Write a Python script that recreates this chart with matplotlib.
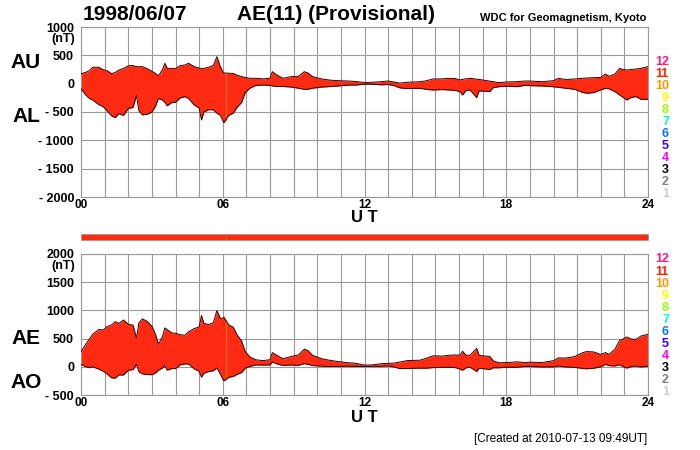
import matplotlib
matplotlib.use("Agg")
import matplotlib.pyplot as plt
from matplotlib.patches import Rectangle
import numpy as np

plt.rcParams['font.family'] = ['Liberation Sans', 'DejaVu Sans']

# ---- data (hours UT, nT) ----
hours = [0.00, 0.20, 0.35, 0.50, 0.75, 0.95, 1.10, 1.30, 1.45, 1.60, 1.80, 2.00,
         2.20, 2.35, 2.45, 2.60, 2.80, 3.00, 3.15, 3.28, 3.45, 3.55, 3.65, 3.85,
         4.00, 4.20, 4.40, 4.55, 4.80, 5.00, 5.10, 5.20, 5.40, 5.60, 5.75, 5.90,
         6.00, 6.05, 6.25, 6.45, 6.60, 6.80, 6.95, 7.15, 7.40, 7.70, 8.00, 8.10,
         8.30, 8.55, 8.90, 9.20, 9.45, 9.60, 9.80, 10.20, 10.60, 10.90, 11.30, 11.60,
         12.00, 12.30, 12.70, 13.00, 13.25, 13.50, 13.80, 14.35, 14.60, 14.90, 15.30, 15.60,
         15.85, 16.04, 16.15, 16.30, 16.47, 16.75, 16.85, 17.00, 17.30, 17.45, 17.70, 18.00,
         18.44, 18.80, 19.00, 19.50, 20.00, 20.20, 20.50, 20.90, 21.20, 21.40, 21.70, 22.00,
         22.20, 22.35, 22.60, 22.80, 22.90, 23.10, 23.30, 23.50, 23.70, 24.00]
au = [175, 200, 230, 290, 290, 245, 230, 175, 200, 240, 270, 315,
      320, 300, 300, 300, 265, 220, 180, 140, 250, 360, 270, 270,
      265, 320, 330, 360, 300, 275, 270, 270, 290, 320, 477, 300,
      210, 190, 185, 180, 150, 125, 110, 95, 95, 85, 95, 212,
      150, 95, 124, 130, 212, 190, 124, 82, 60, 53, 47, 40,
      20, 25, 35, 47, 30, 10, 25, 35, 50, 83, 85, 94,
      90, 65, 75, 85, 94, 80, 75, 65, 45, 35, 18, 30,
      35, 47, 47, 35, 53, 94, 75, 82, 95, 100, 106, 110,
      170, 130, 170, 271, 255, 241, 250, 259, 270, 300]
al = [-90, -200, -260, -290, -370, -410, -480, -570, -600, -530, -560, -440,
      -420, -210, -480, -550, -540, -500, -400, -260, -290, -330, -390, -330,
      -330, -250, -230, -260, -380, -430, -640, -500, -460, -460, -520, -560,
      -650, -690, -560, -520, -420, -330, -160, -80, -30, -25, -30, -40,
      -50, -50, -60, -80, -100, -100, -80, -60, -50, -40, -25, -25,
      -10, -8, -20, -15, -35, -75, -85, -82, -100, -112, -105, -112,
      -120, -141, -200, -120, -112, -247, -130, -130, -141, -70, -53, -45,
      -53, -30, -35, -41, -55, -64, -80, -100, -150, -170, -158, -110,
      -82, -90, -141, -200, -229, -288, -240, -229, -276, -276]
gap_hour = 6.12   # light (orange) column visible in the reference

top_ticks = [1000, 500, 0, -500, -1000, -1500, -2000]
top_labels = ['1000', '500', '0', '- 500', '- 1000', '- 1500', '- 2000']
bot_ticks = [2000, 1500, 1000, 500, 0, -500]
bot_labels = ['2000', '1500', '1000', '500', '0', '- 500']
hour_labels = {0: '00', 6: '06', 12: '12', 18: '18', 24: '24'}
station_nums = ['12', '11', '10', '9', '8', '7', '6', '5', '4', '3', '2', '1']
station_cols = ['#ff1a80', '#ff2200', '#ff9900', '#ffff00', '#99ff00', '#00ffcc',
                '#0077ff', '#3300ff', '#ff00ff', '#000000', '#808080', '#cccccc']

t = np.array(hours)
AU = np.array(au, dtype=float)
AL = np.array(al, dtype=float)
AE = AU - AL
AO = (AU + AL) / 2.0

FILL = '#ff2a12'
GAP = '#ff6a1a'
W, H = 700.0, 450.0

def fx(x):
    return x / W

def fy(y):
    return 1 - y / H

fig = plt.figure(figsize=(7, 4.5), dpi=100)
ax1 = fig.add_axes([fx(81), fy(197), 567 / W, 170 / H])
ax2 = fig.add_axes([fx(81), fy(395), 567 / W, 141 / H])

for ax, lo, hi, ticks, labels in [(ax1, -2000, 1000, top_ticks, top_labels),
                                  (ax2, -500, 2000, bot_ticks, bot_labels)]:
    ax.set_xlim(0, 24)
    ax.set_ylim(lo, hi)
    ax.set_xticks(range(25))
    ax.set_xticklabels([hour_labels.get(h, '') for h in range(25)],
                       fontsize=8.5, fontweight='bold')
    ax.set_yticks(ticks)
    ax.set_yticklabels(labels, fontsize=9, fontweight='bold')
    ax.tick_params(length=0, pad=5)
    ax.tick_params(axis='x', pad=1.5)
    ax.grid(True, color='#999999', linewidth=0.8)
    ax.set_axisbelow(True)
    for s in ax.spines.values():
        s.set_color('#999999')
        s.set_linewidth(0.8)

ax1.fill_between(t, AL, AU, color=FILL, linewidth=0, zorder=2)
ax1.vlines(gap_hour, np.interp(gap_hour, t, AL), np.interp(gap_hour, t, AU),
           color=GAP, linewidth=0.9, zorder=2.5)
ax1.plot(t, AU, color='#300000', linewidth=0.7, zorder=3)
ax1.plot(t, AL, color='#300000', linewidth=0.7, zorder=3)

ax2.fill_between(t, AO, AE, color=FILL, linewidth=0, zorder=2)
ax2.vlines(gap_hour, np.interp(gap_hour, t, AO), np.interp(gap_hour, t, AE),
           color=GAP, linewidth=0.9, zorder=2.5)
ax2.plot(t, AE, color='#300000', linewidth=0.7, zorder=3)
ax2.plot(t, AO, color='#300000', linewidth=0.7, zorder=3)

# data availability bar
fig.patches.append(Rectangle((fx(81), fy(240)), 567 / W, 6 / H, transform=fig.transFigure,
                             facecolor=FILL, edgecolor='#999999', linewidth=0.6))
fig.patches.append(Rectangle((fx(81 + gap_hour * 567 / 24), fy(240)), 1 / W, 6 / H,
                             transform=fig.transFigure, facecolor=GAP, linewidth=0))

# titles
fig.text(fx(83), fy(15), '1998/06/07', fontsize=15, fontweight='bold', va='center', ha='left')
fig.text(fx(336), fy(15), 'AE(11) (Provisional)', fontsize=15, fontweight='bold', va='center', ha='center')
fig.text(fx(646), fy(18), 'WDC for Geomagnetism, Kyoto', fontsize=8, fontweight='bold', va='center', ha='right')

# panel labels
for txt, y in [('AU', 62), ('AL', 116), ('AE', 339), ('AO', 382)]:
    fig.text(fx(26), fy(y), txt, fontsize=15, fontweight='bold', va='center', ha='center')

fig.text(fx(75), fy(39), '(nT)', fontsize=9, fontweight='bold', va='center', ha='right')
fig.text(fx(75), fy(266), '(nT)', fontsize=9, fontweight='bold', va='center', ha='right')

fig.text(fx(364.5), fy(218), 'U T', fontsize=12, fontweight='bold', va='center', ha='center')
fig.text(fx(364.5), fy(418), 'U T', fontsize=12, fontweight='bold', va='center', ha='center')

for i, (n, c) in enumerate(zip(station_nums, station_cols)):
    fig.text(fx(669), fy(62 + 12 * i), n, fontsize=9, fontweight='bold', color=c, va='center', ha='right')
    fig.text(fx(669), fy(259.5 + 12.05 * i), n, fontsize=9, fontweight='bold', color=c, va='center', ha='right')

fig.text(fx(647), fy(439), '[Created at 2010-07-13 09:49UT]', fontsize=8.5, va='center', ha='right')

fig.savefig('out.png', dpi=100)
